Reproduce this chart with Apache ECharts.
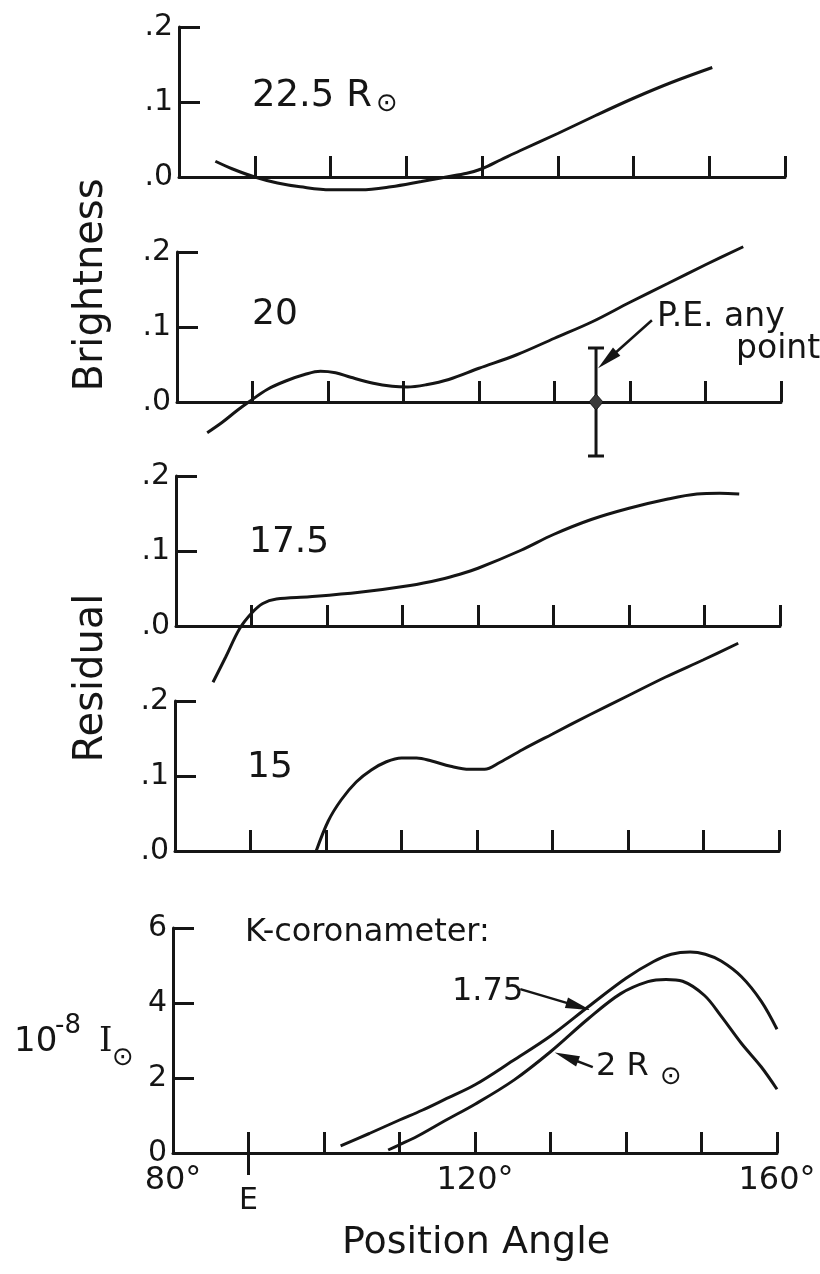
<!DOCTYPE html>
<html><head><meta charset="utf-8">
<script src="https://cdn.jsdelivr.net/npm/echarts@6/dist/echarts.min.js"></script>
<style>html,body{margin:0;padding:0;background:#fff}#c{width:820px;height:1274px}</style>
</head><body><div id="c"></div>
<script>
// ---- data ----
const xTickLabels = {80: '80°', 120: '120°', 160: '160°'};
const eTickLabel = 'E';
const eTickAngle = [90];
const panelTitles = ['22.5 R', '20', '17.5', '15'];
const kTitle = 'K-coronameter:';
const kLabels = ['1.75', '2 R'];
const peLabel = ['P.E. any', 'point'];

// Residual brightness, panel 22.5 R
const curve225 = [[84.8,0.021],[87,0.011],[90,0.0],[93,-0.008],[96,-0.013],[100,-0.017],[104,-0.017],[108,-0.013],[112,-0.006],[115.3,0.0],[118,0.005],[120,0.011],[122.5,0.023],[125,0.035],[130,0.058],[135,0.082],[140,0.105],[145,0.126],[150.4,0.146]];
// panel 20
const curve20 = [[84,-0.041],[86,-0.027],[88,-0.011],[89.5,0.0],[92,0.017],[94.4,0.028],[97,0.037],[99,0.041],[101,0.039],[103,0.033],[106,0.025],[108.5,0.021],[110.5,0.02],[113,0.023],[116,0.03],[120,0.045],[125,0.063],[130,0.085],[135,0.107],[140,0.133],[145,0.158],[150,0.183],[155,0.207]];
// panel 17.5
const curve175 = [[84.9,-0.075],[86.6,-0.041],[88.4,-0.004],[90,0.017],[91.5,0.03],[93.3,0.036],[97.7,0.039],[104.3,0.045],[111,0.054],[115,0.062],[117.6,0.069],[120,0.077],[125.7,0.101],[130,0.122],[135,0.142],[140,0.157],[145,0.169],[149,0.176],[152,0.177],[154.6,0.176]];
// panel 15
const curve15 = [[98.7,0.0],[100.3,0.04],[102,0.068],[104,0.092],[106,0.108],[108,0.119],[110,0.124],[112,0.124],[114,0.12],[116.5,0.113],[119,0.109],[121,0.109],[123,0.118],[126,0.135],[130,0.156],[135,0.182],[140,0.207],[145,0.232],[150,0.255],[154.6,0.277]];
// K-coronameter, 10^-8 I_sun
const kcor175 = [[102.2,0.19],[106,0.52],[110,0.88],[113,1.14],[116,1.43],[120,1.82],[125,2.46],[130,3.12],[135,3.9],[140,4.66],[143.6,5.1],[146,5.3],[148.5,5.36],[150.5,5.3],[152.6,5.12],[155.3,4.7],[157.9,4.05],[160,3.3]];
const kcor2 = [[108.5,0.08],[110,0.22],[112.3,0.44],[116,0.86],[120,1.3],[125.2,1.95],[130,2.7],[135,3.58],[139.3,4.25],[142.9,4.57],[145.3,4.63],[147.5,4.58],[150.4,4.2],[152.6,3.65],[155.3,2.92],[157.9,2.3],[160,1.7]];
// probable error bar
const peAngle = 135.5, peValue = 0.0, peError = 0.072;
// annotation arrows (tail, head)
const arrowPE = [[142.9,0.109],[137.0,0.056]];
const arrow175 = [[126.0,4.37],[133.7,3.91]];
const arrow2 = [[135.6,2.29],[132.1,2.56]];

// ---- chart ----
const INK = '#151515';
const FONT = '"DejaVu Sans"';
const chart = echarts.init(document.getElementById('c'), null, {renderer: 'canvas'});

const grids = [
  {left: 179, top: 27, width: 606, height: 150},
  {left: 177, top: 252, width: 604, height: 150},
  {left: 176, top: 476, width: 604, height: 150},
  {left: 175, top: 701, width: 604, height: 150},
  {left: 173, top: 928, width: 604, height: 225}
];
const lineStyle = {color: INK, width: 3};

function xAx(gi) {
  return {
    type: 'value', gridIndex: gi, position: 'bottom', min: 80, max: 160, interval: 10,
    axisLine: {show: true, onZero: false, lineStyle},
    axisTick: {show: true, inside: true, length: 21, lineStyle},
    splitLine: {show: false},
    axisLabel: {show: gi === 4, formatter: v => xTickLabels[v] || '', fontSize: 32, fontFamily: FONT, color: INK, margin: 12}
  };
}
function yAx(gi, max, interval, fmt) {
  return {
    type: 'value', gridIndex: gi, position: 'left', min: 0, max, interval,
    axisLine: {show: true, onZero: false, lineStyle},
    axisTick: {show: true, inside: true, length: 21, lineStyle},
    splitLine: {show: false},
    axisLabel: {formatter: fmt, fontSize: 30, fontFamily: FONT, color: INK, margin: 6}
  };
}
const decFmt = v => '.' + Math.round(v * 10);

const xAxes = [0,1,2,3,4].map(xAx);
xAxes.push({
  type: 'value', gridIndex: 4, position: 'bottom', offset: 0, min: 80, max: 160, interval: 10,
  axisLine: {show: false, onZero: false},
  axisTick: {show: true, inside: false, length: 22, lineStyle, customValues: eTickAngle},
  splitLine: {show: false},
  axisLabel: {show: true, customValues: eTickAngle, formatter: () => eTickLabel, fontSize: 30, fontFamily: FONT, color: INK, margin: 33}
});

function lineSeries(data, gi, extra) {
  return Object.assign({
    type: 'line', data, xAxisIndex: gi, yAxisIndex: gi,
    showSymbol: false, symbol: 'none', smooth: 0.35, clip: false,
    lineStyle: {color: INK, width: 3}, silent: true, animation: false
  }, extra || {});
}
function arrowMark(a) {
  return {
    silent: true, animation: false,
    symbol: ['none', 'triangle'],
    label: {show: false},
    lineStyle: {color: INK, width: 2.5, type: 'solid'},
    itemStyle: {color: '#333'},
    data: [[{coord: a[0], symbol: 'none'}, {coord: a[1], symbol: 'triangle', symbolSize: [11, 25]}]]
  };
}
function txt(x, y, text, size, extra) {
  return {type: 'text', x, y, style: Object.assign({text, fontSize: size, fontFamily: FONT, fill: INK, align: 'left', verticalAlign: 'middle'}, extra || {})};
}

const option = {
  backgroundColor: '#fff',
  animation: false,
  grid: grids,
  xAxis: xAxes,
  yAxis: [
    yAx(0, 0.2, 0.1, decFmt), yAx(1, 0.2, 0.1, decFmt), yAx(2, 0.2, 0.1, decFmt), yAx(3, 0.2, 0.1, decFmt),
    yAx(4, 6, 2, v => String(v))
  ],
  series: [
    lineSeries(curve225, 0),
    lineSeries(curve20, 1, {markLine: arrowMark(arrowPE)}),
    {
      type: 'custom', xAxisIndex: 1, yAxisIndex: 1, clip: false, silent: true,
      data: [[peAngle, peValue, peError]],
      encode: {x: 0, y: 1},
      renderItem: (params, api) => {
        const c = api.coord([api.value(0), api.value(1)]);
        const t = api.coord([api.value(0), api.value(1) + api.value(2)]);
        const b = api.coord([api.value(0), api.value(1) - api.value(2)]);
        const st = {stroke: INK, lineWidth: 3};
        return {type: 'group', children: [
          {type: 'line', shape: {x1: c[0], y1: t[1], x2: c[0], y2: b[1]}, style: st},
          {type: 'line', shape: {x1: c[0] - 8, y1: t[1], x2: c[0] + 8, y2: t[1]}, style: st},
          {type: 'line', shape: {x1: c[0] - 8, y1: b[1], x2: c[0] + 8, y2: b[1]}, style: st},
          {type: 'polygon', shape: {points: [[c[0], c[1] - 8], [c[0] + 7, c[1]], [c[0], c[1] + 8], [c[0] - 7, c[1]]]}, style: {fill: '#3a3a3a', stroke: INK, lineWidth: 1}}
        ]};
      }
    },
    lineSeries(curve175, 2),
    lineSeries(curve15, 3),
    lineSeries(kcor175, 4, {markLine: arrowMark(arrow175)}),
    lineSeries(kcor2, 4, {markLine: arrowMark(arrow2)})
  ],
  graphic: [
    {type: 'text', x: 92, y: 285, rotation: Math.PI / 2, style: {text: 'Brightness', fontSize: 40, fontFamily: FONT, fill: INK, align: 'center', verticalAlign: 'middle'}},
    {type: 'text', x: 92, y: 678, rotation: Math.PI / 2, style: {text: 'Residual', fontSize: 40, fontFamily: FONT, fill: INK, align: 'center', verticalAlign: 'middle'}},
    txt(252, 96, panelTitles[0], 37),
    txt(376, 104, '⊙', 26),
    txt(252, 315, panelTitles[1], 36),
    txt(249, 543, panelTitles[2], 36),
    txt(247, 768, panelTitles[3], 36),
    txt(657, 317, peLabel[0], 33),
    txt(736, 349, peLabel[1], 33),
    txt(245, 933, kTitle, 32),
    txt(452, 992, kLabels[0], 32),
    txt(596, 1067, kLabels[1], 32),
    txt(660, 1077, '⊙', 26),
    txt(14, 1042, '10', 34),
    txt(55, 1026, '-8', 26),
    txt(99, 1042, 'I', 34, {fontFamily: '"DejaVu Serif"'}),
    txt(112, 1058, '⊙', 26),
    txt(476, 1243, 'Position Angle', 38, {align: 'center'})
  ]
};
chart.setOption(option);
</script></body></html>
